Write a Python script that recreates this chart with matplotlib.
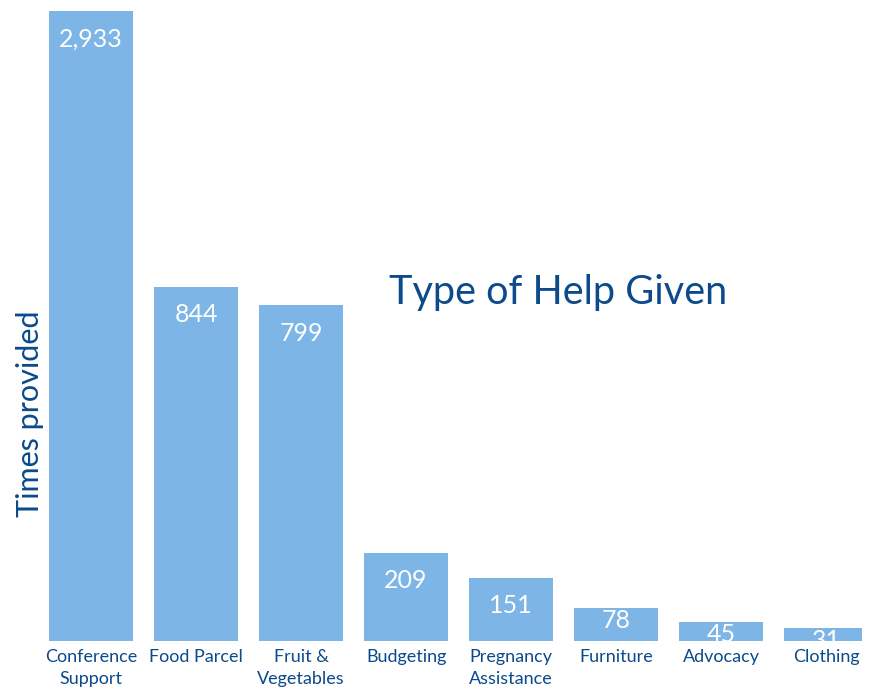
import matplotlib
matplotlib.use('Agg')
import matplotlib.pyplot as plt

# data
categories = ['Conference\nSupport', 'Food Parcel', 'Fruit &\nVegetables', 'Budgeting',
              'Pregnancy\nAssistance', 'Furniture', 'Advocacy', 'Clothing']
counts = [2933, 844, 799, 209, 151, 78, 45, 31]
value_labels = ['2,933', '844', '799', '209', '151', '78', '45', '31']

plt.rcParams['font.family'] = ['Lato', 'DejaVu Sans']

bar_col = '#7cb5e6'
text_col = '#0b4a8b'

fig = plt.figure(figsize=(8.78, 6.91), dpi=100)
ax = fig.add_axes([0.0439, 0.0724, 0.938, 0.9117])

x = list(range(len(counts)))
ax.bar(x, counts, width=0.8, color=bar_col)
ax.set_xlim(-0.5, 7.343)
ax.set_ylim(0, 1500)

for xi, v, lab in zip(x, counts, value_labels):
    top = min(v, 1500)
    off = -9 if v < 100 else -20
    ax.annotate(lab, (xi, top), xytext=(0, off), textcoords='offset points',
                ha='center', va='center', color='white', fontsize=18,
                annotation_clip=False, clip_on=True)

ax.set_xticks(x)
ax.set_xticklabels(categories, color=text_col, fontsize=13, linespacing=1.4)
ax.tick_params(axis='x', length=0, pad=6)
ax.set_yticks([])
for s in ax.spines.values():
    s.set_visible(False)

fig.text(0.0342, 0.402, 'Times provided', rotation=90, ha='center', va='center',
         color=text_col, fontsize=22)
fig.text(0.636, 0.576, 'Type of Help Given', ha='center', va='center',
         color=text_col, fontsize=28.5)

fig.savefig('out.png', dpi=100)
